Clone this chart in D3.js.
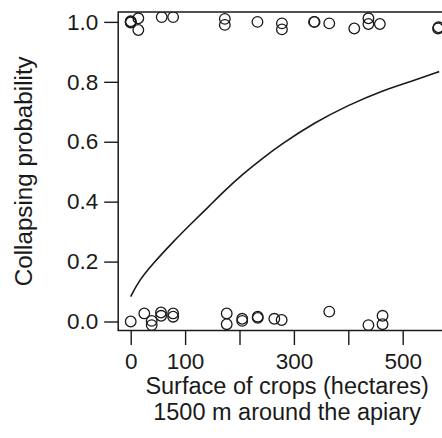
<!DOCTYPE html>
<html><head><meta charset="utf-8">
<script src="https://cdn.jsdelivr.net/npm/d3@7"></script>
<style>
html,body{margin:0;padding:0;background:#fff;}
svg{display:block;font-family:"Liberation Sans",Arial,sans-serif;}
</style></head>
<body>
<svg id="chart" width="442" height="438"></svg>
<script>
// Observed colonies: x = crop surface (ha), y = collapsed (1) / not (0), with vertical jitter
const topX = [0, 0, 0, 14, 14, 57, 78, 173, 173, 233, 278, 278, 337, 338, 365, 411, 437, 437, 458, 565, 566];
const topY = [1.0, 0.998, 1.002, 1.012, 0.973, 1.016, 1.016, 1.01, 0.99, 1.0, 0.995, 0.975, 1.0, 1.0, 0.995, 0.978, 1.012, 0.993, 0.993, 0.978, 0.982];
const botX = [0, 25, 38.6, 38.6, 55.7, 56, 78, 78, 176.5, 176.5, 205, 205, 233.5, 233.5, 264, 277.5, 365, 437, 463, 463];
const botY = [0.0, 0.027, 0.002, -0.012, 0.03, 0.019, 0.027, 0.016, 0.027, -0.009, 0.009, 0.002, 0.016, 0.012, 0.009, 0.005, 0.033, -0.012, 0.019, -0.009];
// Fitted curve
const curveX = [0, 14, 38.6, 81, 112, 143, 173, 204, 241, 277, 339, 400, 461, 523, 567];
const curveP = [0.083, 0.133, 0.189, 0.272, 0.328, 0.383, 0.437, 0.489, 0.543, 0.592, 0.665, 0.722, 0.77, 0.806, 0.834];
// Axis ticks
const xTicks = [0, 100, 200, 300, 400, 500];
const xTickLabels = [0, 100, 300, 500];
const yTicks = [0, 0.2, 0.4, 0.6, 0.8, 1.0];

const svg = d3.select("#chart");
const x = d3.scaleLinear().domain([-23, 598]).range([118.2, 456]);
const y = d3.scaleLinear().domain([-0.03, 1.033]).range([330.5, 12]);
const ink = "#1a1a1a";

svg.append("defs").append("clipPath").attr("id", "plotclip")
  .append("rect").attr("x", x(-23)).attr("y", y(1.033)).attr("width", x(598) - x(-23)).attr("height", y(-0.03) - y(1.033));

const plot = svg.append("g").attr("clip-path", "url(#plotclip)");

plot.append("path")
  .datum(curveX.map((d, i) => [d, curveP[i]]))
  .attr("d", d3.line().x(d => x(d[0])).y(d => y(d[1])).curve(d3.curveBasis))
  .attr("fill", "none").attr("stroke", ink).attr("stroke-width", 1.6);

const pts = topX.map((d, i) => [d, topY[i]]).concat(botX.map((d, i) => [d, botY[i]]));
plot.selectAll("circle.pt").data(pts).enter().append("circle")
  .attr("class", "pt")
  .attr("cx", d => x(d[0])).attr("cy", d => y(d[1])).attr("r", 5.3)
  .attr("fill", "none").attr("stroke", ink).attr("stroke-width", 1.3);

// Box
svg.append("rect")
  .attr("x", x(-23)).attr("y", y(1.033))
  .attr("width", x(598) - x(-23)).attr("height", y(-0.03) - y(1.033))
  .attr("fill", "none").attr("stroke", ink).attr("stroke-width", 1.5);

// Y axis
const yAxis = svg.append("g").attr("transform", `translate(${x(-23)},0)`)
  .call(d3.axisLeft(y).tickValues(yTicks).tickFormat(d3.format(".1f")).tickSize(14).tickPadding(6));
yAxis.select(".domain").remove();
yAxis.selectAll("line").attr("stroke", ink).attr("stroke-width", 1.4);
yAxis.selectAll("text").attr("font-size", "22.5px").attr("fill", ink)
  .attr("font-family", "Liberation Sans, Arial, sans-serif");

// X axis
const xAxis = svg.append("g").attr("transform", `translate(0,${y(-0.03)})`)
  .call(d3.axisBottom(x).tickValues(xTicks)
    .tickFormat(d => xTickLabels.includes(d) ? d : "").tickSize(14.5).tickPadding(8));
xAxis.select(".domain").remove();
xAxis.selectAll("line").attr("stroke", ink).attr("stroke-width", 1.4);
xAxis.selectAll("text").attr("font-size", "22.5px").attr("fill", ink)
  .attr("font-family", "Liberation Sans, Arial, sans-serif");

// Titles
const cx = (x(-23) + x(598)) / 2;
svg.append("text").attr("x", cx).attr("y", 393.5).attr("text-anchor", "middle")
  .attr("font-size", "23.5px").attr("fill", ink).text("Surface of crops (hectares)");
svg.append("text").attr("x", cx).attr("y", 420).attr("text-anchor", "middle")
  .attr("font-size", "23.5px").attr("fill", ink).text("1500 m around the apiary");
svg.append("text")
  .attr("transform", `translate(32,${(y(-0.03) + y(1.033)) / 2}) rotate(-90)`)
  .attr("text-anchor", "middle").attr("font-size", "24.2px").attr("fill", ink)
  .text("Collapsing probability");
</script>
</body></html>
